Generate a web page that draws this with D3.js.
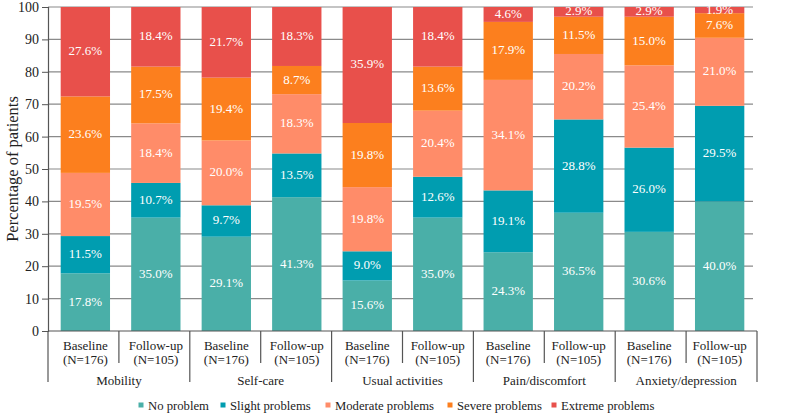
<!DOCTYPE html>
<html><head><meta charset="utf-8">
<script src="https://cdn.jsdelivr.net/npm/d3@7"></script>
<style>body{margin:0;background:#fff}svg{display:block}svg text{font-family:"Liberation Serif","Tinos","Times New Roman","Times","DejaVu Serif","Noto Serif",serif !important}</style>
</head><body><svg id="c" width="800" height="416"></svg>
<script>
const domains = ["Mobility","Self-care","Usual activities","Pain/discomfort","Anxiety/depression"];
const timepoints = ["Baseline","Follow-up"];
const ns = ["(N=176)","(N=105)"];
const levels = ["No problem","Slight problems","Moderate problems","Severe problems","Extreme problems"];
const colors = ["#4aafa8","#009db0","#ff8c69","#fc7f1e","#e8504b"];
// values per bar, order: Mobility B/F, Self-care B/F, Usual B/F, Pain B/F, Anxiety B/F
const noProblem = [17.8,35.0,29.1,41.3,15.6,35.0,24.3,36.5,30.6,40.0];
const slight    = [11.5,10.7,9.7,13.5,9.0,12.6,19.1,28.8,26.0,29.5];
const moderate  = [19.5,18.4,20.0,18.3,19.8,20.4,34.1,20.2,25.4,21.0];
const severe    = [23.6,17.5,19.4,8.7,19.8,13.6,17.9,11.5,15.0,7.6];
const extreme   = [27.6,18.4,21.7,18.3,35.9,18.4,4.6,2.9,2.9,1.9];
const yTicks = [0,10,20,30,40,50,60,70,80,90,100];

const FONT = "'Liberation Serif','Tinos','Times New Roman','DejaVu Serif',serif";
const series = [noProblem,slight,moderate,severe,extreme];
const bars = [];
domains.forEach((d,i)=>timepoints.forEach((t,j)=>bars.push({id:i*2+j,domain:d,tp:t,n:ns[j]})));
const rows = bars.map(b=>{const r={id:b.id};levels.forEach((l,k)=>r[l]=series[k][b.id]);return r;});
const stacked = d3.stack().keys(levels)(rows);
const lastIdx = levels.length-1;
const segTop = (d,k)=> k===lastIdx ? 100 : Math.min(d[1],100);

const svg = d3.select("#c");
const L=48,R=757,T=7,B=331;
const x = d3.scaleBand().domain(bars.map(b=>b.id)).range([L,R]).paddingInner(0.3).paddingOuter(0.18);
const y = d3.scaleLinear().domain([0,100]).range([B,T]);

// gridlines
svg.append("g").selectAll("line").data(yTicks.filter(v=>v>0)).join("line")
  .attr("x1",L).attr("x2",753).attr("y1",d=>y(d)).attr("y2",d=>y(d))
  .attr("stroke","#8a8a8a").attr("stroke-width",1.2);

// bars
const g = svg.append("g");
stacked.forEach((s,k)=>{
  g.append("g").selectAll("rect").data(s).join("rect")
    .attr("x",d=>x(d.data.id)).attr("width",x.bandwidth())
    .attr("y",d=>y(segTop(d,k))).attr("height",d=>y(d[0])-y(segTop(d,k)))
    .attr("fill",colors[k]);
  g.append("g").selectAll("text").data(s).join("text")
    .attr("x",d=>x(d.data.id)+x.bandwidth()/2)
    .attr("y",d=>y((d[0]+segTop(d,k))/2)+0.5)
    .attr("text-anchor","middle").attr("dominant-baseline","middle")
    .style("font-family",FONT)
    .attr("fill","#fff").attr("font-size",13)
    .text(d=>series[k][d.data.id].toFixed(1)+"%");
});

// y axis
const ya = svg.append("g").attr("transform",`translate(${L},0)`)
  .call(d3.axisLeft(y).tickValues(yTicks).tickSize(6).tickPadding(3));
ya.attr("font-family",null);
ya.select(".domain").attr("stroke","#555").attr("stroke-width",1.2);
ya.selectAll(".tick line").attr("stroke","#555");
ya.selectAll("text").style("font-family",FONT).attr("font-size",14).attr("fill","#222");

svg.append("text").attr("transform",`translate(18,${(T+B)/2}) rotate(-90)`)
  .style("font-family",FONT)
  .attr("text-anchor","middle").attr("font-size",16.5).attr("fill","#222").text("Percentage of patients");

// x axis line
svg.append("line").attr("x1",L).attr("x2",R).attr("y1",B).attr("y2",B).attr("stroke","#555").attr("stroke-width",1.2);
// separators
for(let i=0;i<=bars.length;i++){
  const xx = L + i*(R-L)/bars.length;
  svg.append("line").attr("x1",xx).attr("x2",xx).attr("y1",B).attr("y2",i%2===0?382:363)
    .attr("stroke","#555").attr("stroke-width",1.2);
}
// bar labels
const bl = svg.append("g").selectAll("g").data(bars).join("g");
bl.append("text").attr("x",d=>x(d.id)+x.bandwidth()/2).attr("y",349.5).attr("text-anchor","middle")
  .style("font-family",FONT).attr("font-size",13).attr("fill","#222").text(d=>d.tp);
bl.append("text").attr("x",d=>x(d.id)+x.bandwidth()/2).attr("y",363.5).attr("text-anchor","middle")
  .style("font-family",FONT).attr("font-size",13).attr("fill","#222").text(d=>d.n);
// domain labels
svg.append("g").selectAll("text").data(domains).join("text")
  .attr("x",(d,i)=>L+(i*2+1)*(R-L)/bars.length).attr("y",384.5).attr("text-anchor","middle")
  .style("font-family",FONT).attr("font-size",13).attr("fill","#222").text(d=>d);

// legend
const legX = [141,223,328,450,554];
const lg = svg.append("g").selectAll("g").data(levels).join("g")
  .attr("transform",(d,i)=>`translate(${legX[i]},405)`);
lg.append("rect").attr("x",-2.5).attr("y",-2.5).attr("width",5).attr("height",5).attr("fill",(d,i)=>colors[i]);
lg.append("text").attr("x",7).attr("y",4.5).style("font-family",FONT).attr("font-size",12.7).attr("fill","#222").text(d=>d);
</script></body></html>
